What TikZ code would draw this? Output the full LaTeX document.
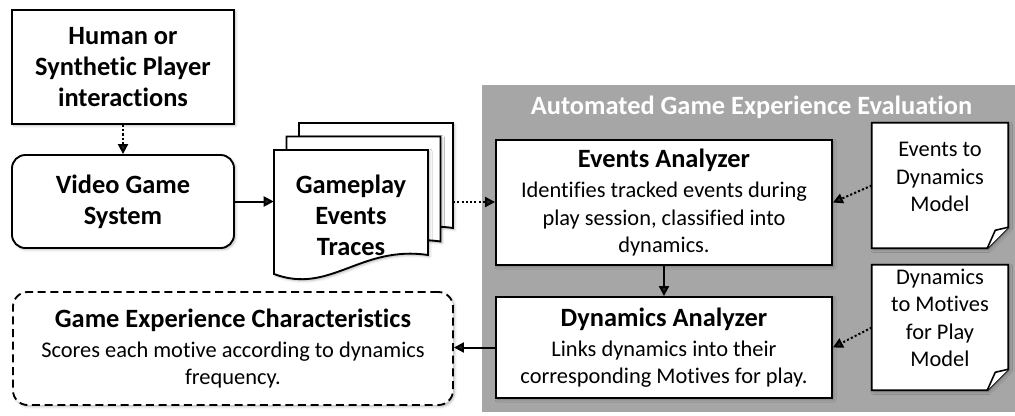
\documentclass[tikz,border=0pt]{standalone}
\usepackage{fontspec}
\setmainfont{Carlito}[RawFeature={-liga;-dlig;-clig}]
\usetikzlibrary{arrows.meta,shadows.blur,calc}
\definecolor{panelgray}{RGB}{166,166,166}
\newcommand\ttl{\fontsize{19.8}{23.25}\selectfont\bfseries}
\newcommand\bdy{\fontsize{16.8}{20.6}\selectfont}
\begin{document}
\begin{tikzpicture}[x=0.75pt,y=-0.75pt,
  shadowed/.style={blur shadow={shadow xshift=1.2pt,shadow yshift=-1.2pt,shadow opacity=30,shadow blur steps=4}},
  box/.style={draw=black,line width=1.4pt,fill=white,align=center,inner sep=0pt,shadowed},
  plain/.style={align=center,inner sep=0pt},
  note/.style={draw=black,line width=1.4pt,fill=white,line join=miter,shadowed},
  fold/.style={draw=black,line width=1.2pt,fill=white,line join=round},
  doc/.style={draw=black,line width=1.4pt,fill=white,shadowed},
  arr/.style={line width=1.5pt,-{Triangle[length=7.5pt,width=7.5pt]}},
  dotarr/.style={arr,dash pattern=on 1.6pt off 1.6pt}
]
\useasboundingbox (0,0) rectangle (1015,415);

% left column
\node[box,minimum width=166.5pt,minimum height=85.5pt,font=\ttl] (human) at (123,67)
  {Human or\\Synthetic Player\\interactions};
\node[box,rounded corners=10pt,minimum width=166.5pt,minimum height=69.75pt,font=\ttl] (video) at (123,201.5)
  {Video Game\\System};

% stacked documents
\draw[doc,shift={(299,123)}] (0,0) -- (154,0) -- (154,105) .. controls (86,95) and (56,145) .. (0,124) -- cycle;
\draw[doc,shift={(286.5,136.5)}] (0,0) -- (154,0) -- (154,105) .. controls (86,95) and (56,145) .. (0,124) -- cycle;
\draw[doc,shift={(274,150)}] (0,0) -- (154,0) -- (154,105) .. controls (86,95) and (56,145) .. (0,124) -- cycle;
\node[plain,font=\ttl,minimum width=115.5pt] (traces) at (351,215) {Gameplay\\Events\\Traces};
\coordinate (backR) at (453,202);

% panel
\node[fill=panelgray,inner sep=0pt,minimum width=399.75pt,minimum height=245.25pt] (panel) at (748.5,248.5) {};
\node[plain,font=\ttl,text=white] (ptitle) at (751.5,107) {Automated Game Experience Evaluation};

\node[box,minimum width=252pt,minimum height=93.75pt,font=\bdy] (ea) at (664,202.5)
  {{\ttl Events Analyzer}\\[2pt]Identifies tracked events during\\play session, classified into\\dynamics.};
\node[box,minimum width=252pt,minimum height=75.75pt,font=\bdy] (da) at (664,347.5)
  {{\ttl Dynamics Analyzer}\\[2pt]Links dynamics into their\\corresponding Motives for play.};

% notes
\node[inner sep=0pt,minimum width=102pt,minimum height=93.75pt] (n1) at (940,185.5) {};
\draw[note] (n1.north west) -- (n1.north east) -- ($(n1.south east)+(0,-21)$) -- ($(n1.south east)+(-21,0)$) -- (n1.south west) -- cycle;
\draw[fold] ($(n1.south east)+(0,-21)$) -- ($(n1.south east)+(-13,-18)$) .. controls ($(n1.south east)+(-17,-9)$) .. ($(n1.south east)+(-21,0)$);
\node[plain,font=\bdy] (n1t) at (940,177) {Events to\\Dynamics\\Model};

\node[inner sep=0pt,minimum width=102pt,minimum height=93.75pt] (n2) at (940,327.5) {};
\draw[note] (n2.north west) -- (n2.north east) -- ($(n2.south east)+(0,-21)$) -- ($(n2.south east)+(-21,0)$) -- (n2.south west) -- cycle;
\draw[fold] ($(n2.south east)+(0,-21)$) -- ($(n2.south east)+(-13,-18)$) .. controls ($(n2.south east)+(-17,-9)$) .. ($(n2.south east)+(-21,0)$);
\node[plain,font=\bdy] (n2t) at (940,318) {Dynamics\\to Motives\\for Play\\Model};

% result
\node[box,rounded corners=11pt,dash pattern=on 6pt off 3.5pt,minimum width=330pt,minimum height=84.75pt,font=\bdy] (gec) at (233,348.5)
  {{\ttl Game Experience Characteristics}\\[2pt]Scores each motive according to dynamics\\frequency.};

% connectors
\draw[dotarr] (human.south) -- (video.north);
\draw[arr] (video.east) -- (video.east -| traces.west);
\draw[dotarr] (backR) -- (backR -| ea.west);
\draw[arr] (ea.south) -- (da.north);
\draw[dotarr] (n1.west) -- (ea.east);
\draw[dotarr] (n2.west) -- (da.east);
\draw[arr] (da.west) -- (da.west -| gec.east);
\end{tikzpicture}
\end{document}
